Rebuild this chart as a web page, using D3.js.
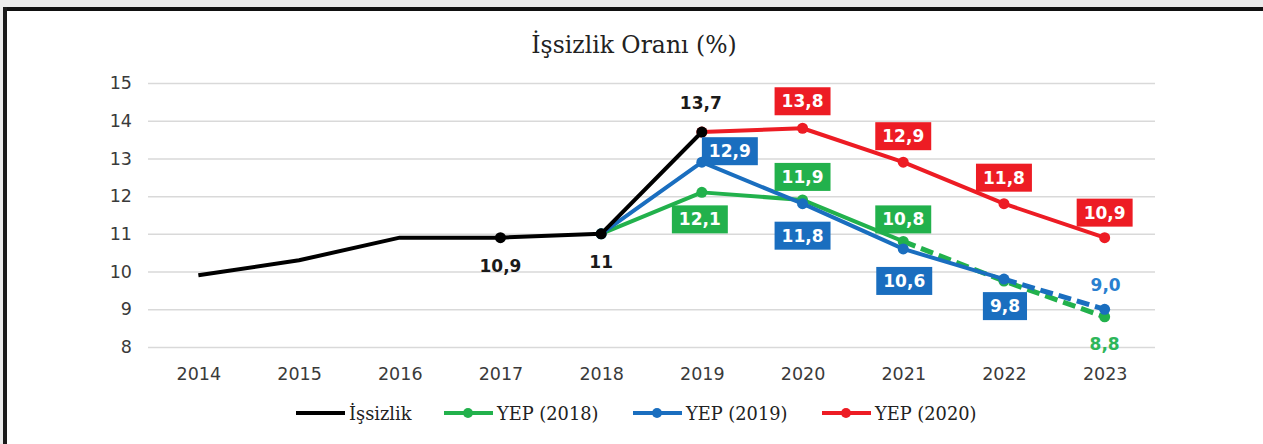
<!DOCTYPE html>
<html>
<head>
<meta charset="utf-8">
<script src="https://cdn.jsdelivr.net/npm/d3@7"></script>
<style>
    body { margin: 0; background: #ebebeb; }
    svg { display: block; }
</style>
</head>
<body>
<div id="chart"></div>
<script>
// values
var years = [2014, 2015, 2016, 2017, 2018, 2019, 2020, 2021, 2022, 2023];
var issizlik = [9.9, 10.3, 10.9, 10.9, 11.0, 13.7, null, null, null, null];
var yep2018 = [null, null, null, null, 11.0, 12.1, 11.9, 10.8, 9.75, 8.8];
var yep2019 = [null, null, null, null, 11.0, 12.9, 11.8, 10.6, 9.8, 9.0];
var yep2020 = [null, null, null, null, null, 13.7, 13.8, 12.9, 11.8, 10.9];
var yTicks = [8, 9, 10, 11, 12, 13, 14, 15];
var seriesNames = ["İşsizlik", "YEP (2018)", "YEP (2019)", "YEP (2020)"];
// first year of the dashed (projected) part
var dashFrom2018 = 2021;
var dashFrom2019 = 2022;

var width = 1263;
var height = 444;

var black = '#000000';
var green = '#22b14c';
var blue = '#1a6ebf';
var red = '#ed1c24';

var svg = d3.select("#chart")
    .append("svg")
    .attr("width", width)
    .attr("height", height);

// frame
svg.append("rect").attr("x", 7).attr("y", 11).attr("width", width - 7).attr("height", height - 11).style("fill", "#fff");
svg.append("rect").attr("x", 3).attr("y", 7).attr("width", width - 3).attr("height", 4).style("fill", "#111");
svg.append("rect").attr("x", 3).attr("y", 7).attr("width", 4).attr("height", height - 7).style("fill", "#1a1a1a");

var x = d3.scalePoint()
    .domain(years)
    .range([148, 1155])
    .padding(0.5);

var y = d3.scaleLinear()
    .domain([8, 15])
    .range([347, 83]);

// title
svg.append("text")
    .attr("x", 634)
    .attr("y", 53)
    .attr("text-anchor", "middle")
    .style("font-family", "'DejaVu Serif', serif")
    .style("font-size", "23.5px")
    .style("fill", "#222")
    .text("İşsizlik Oranı (%)");

// grid + y axis
var yAxis = d3.axisLeft(y)
    .tickValues(yTicks)
    .tickSize(-(1155 - 148))
    .tickPadding(16)
    .tickFormat(d3.format("d"));

var gy = svg.append("g")
    .attr("transform", "translate(148,0)")
    .call(yAxis);
gy.select(".domain").remove();
gy.selectAll("line").style("stroke", "#d9d9d9").style("stroke-width", 1.5);
gy.selectAll("text")
    .style("font-family", "'DejaVu Sans', Verdana, sans-serif")
    .style("font-size", "17.5px")
    .style("fill", "#3a3a3a");

var xAxis = d3.axisBottom(x).tickSize(0).tickPadding(21);
var gx = svg.append("g")
    .attr("transform", "translate(0,347)")
    .call(xAxis);
gx.select(".domain").remove();
gx.selectAll("text")
    .style("font-family", "'DejaVu Sans', Verdana, sans-serif")
    .style("font-size", "17.5px")
    .style("fill", "#3a3a3a");

function pts(vals) {
    var out = [];
    for (var i = 0; i < years.length; i++) {
        if (vals[i] != null) out.push({ year: years[i], v: vals[i] });
    }
    return out;
}

var line = d3.line()
    .x(function (d) { return x(d.year); })
    .y(function (d) { return y(d.v); });

function drawSeries(vals, color, dashFrom, markerFrom) {
    var p = pts(vals);
    var solid = p.filter(function (d) { return dashFrom == null || d.year <= dashFrom; });
    var dashed = p.filter(function (d) { return dashFrom != null && d.year >= dashFrom; });
    svg.append("path")
        .attr("d", line(solid))
        .style("fill", "none")
        .style("stroke", color)
        .style("stroke-width", 4)
        .style("stroke-linejoin", "round");
    if (dashed.length > 1) {
        svg.append("path")
            .attr("d", line(dashed))
            .style("fill", "none")
            .style("stroke", color)
            .style("stroke-width", 5)
            .style("stroke-dasharray", "13,6");
    }
    svg.append("g").selectAll("circle")
        .data(p.filter(function (d) { return d.year >= markerFrom; }))
        .enter()
        .append("circle")
        .attr("cx", function (d) { return x(d.year); })
        .attr("cy", function (d) { return y(d.v); })
        .attr("r", 5.5)
        .style("fill", color);
}

drawSeries(yep2018, green, dashFrom2018, 2018);
drawSeries(yep2019, blue, dashFrom2019, 2018);
drawSeries(yep2020, red, null, 2019);
drawSeries(issizlik, black, null, 2017);

// data labels
var labelFont = "'DejaVu Sans', Verdana, sans-serif";

function valueOf(vals, year) { return vals[years.indexOf(year)]; }

function boxLabel(vals, year, text, color, dx, dy) {
    var cx = x(year) + dx, cy = y(valueOf(vals, year)) + dy;
    var g = svg.append("g");
    var t = g.append("text")
        .attr("x", cx)
        .attr("y", cy)
        .attr("text-anchor", "middle")
        .attr("dominant-baseline", "central")
        .style("font-family", labelFont)
        .style("font-weight", "bold")
        .style("font-size", "17px")
        .style("fill", "#fff")
        .text(text);
    var bb = t.node().getBBox();
    g.insert("rect", "text")
        .attr("x", cx - bb.width / 2 - 7)
        .attr("y", cy - 14)
        .attr("width", bb.width + 14)
        .attr("height", 28)
        .style("fill", color);
}

function plainLabel(vals, year, text, color, dx, dy) {
    svg.append("text")
        .attr("x", x(year) + dx)
        .attr("y", y(valueOf(vals, year)) + dy)
        .attr("text-anchor", "middle")
        .attr("dominant-baseline", "central")
        .style("font-family", labelFont)
        .style("font-weight", "bold")
        .style("font-size", "17px")
        .style("fill", color)
        .text(text);
}

function fmt1(v) { return v.toFixed(1).replace(".", ","); }
function fmtShort(v) { return String(v).replace(".", ","); }

plainLabel(issizlik, 2017, fmtShort(valueOf(issizlik, 2017)), "#1a1a1a", 0, 28);
plainLabel(issizlik, 2018, fmtShort(valueOf(issizlik, 2018)), "#1a1a1a", 0, 28);
plainLabel(issizlik, 2019, fmtShort(valueOf(issizlik, 2019)), "#1a1a1a", -1, -29);

boxLabel(yep2020, 2020, fmt1(valueOf(yep2020, 2020)), red, 0, -27);
boxLabel(yep2020, 2021, fmt1(valueOf(yep2020, 2021)), red, 0, -26);
boxLabel(yep2020, 2022, fmt1(valueOf(yep2020, 2022)), red, 0, -26);
boxLabel(yep2020, 2023, fmt1(valueOf(yep2020, 2023)), red, 0, -25);

boxLabel(yep2019, 2019, fmt1(valueOf(yep2019, 2019)), blue, 28, -11);
boxLabel(yep2019, 2020, fmt1(valueOf(yep2019, 2020)), blue, 0, 32);
boxLabel(yep2019, 2021, fmt1(valueOf(yep2019, 2021)), blue, 1, 32);
boxLabel(yep2019, 2022, fmt1(valueOf(yep2019, 2022)), blue, 1, 27);
plainLabel(yep2019, 2023, fmt1(valueOf(yep2019, 2023)), "#2a7fcf", 1, -24);

boxLabel(yep2018, 2019, fmt1(valueOf(yep2018, 2019)), green, -2, 27);
boxLabel(yep2018, 2020, fmt1(valueOf(yep2018, 2020)), green, 0, -23);
boxLabel(yep2018, 2021, fmt1(valueOf(yep2018, 2021)), green, 0, -22);
plainLabel(yep2018, 2023, fmt1(valueOf(yep2018, 2023)), "#2db65a", 0, 27);

// legend
var legendColors = [black, green, blue, red];
var legendX = [296, 444, 633, 822];
var legend = svg.append("g")
    .selectAll("g")
    .data(seriesNames)
    .enter()
    .append("g")
    .attr("transform", function (d, i) { return "translate(" + legendX[i] + ",413)"; });

legend.append("line")
    .attr("x1", 0).attr("x2", 49)
    .style("stroke", function (d, i) { return legendColors[i]; })
    .style("stroke-width", 4);
legend.filter(function (d, i) { return i > 0; })
    .append("circle")
    .attr("cx", 24).attr("r", 5)
    .style("fill", function (d, i) { return legendColors[i + 1]; });
legend.append("text")
    .attr("x", 53)
    .attr("dominant-baseline", "central")
    .style("font-family", "'DejaVu Serif', serif")
    .style("font-size", "17.8px")
    .style("fill", "#222")
    .text(function (d) { return d; });
</script>
</body>
</html>
